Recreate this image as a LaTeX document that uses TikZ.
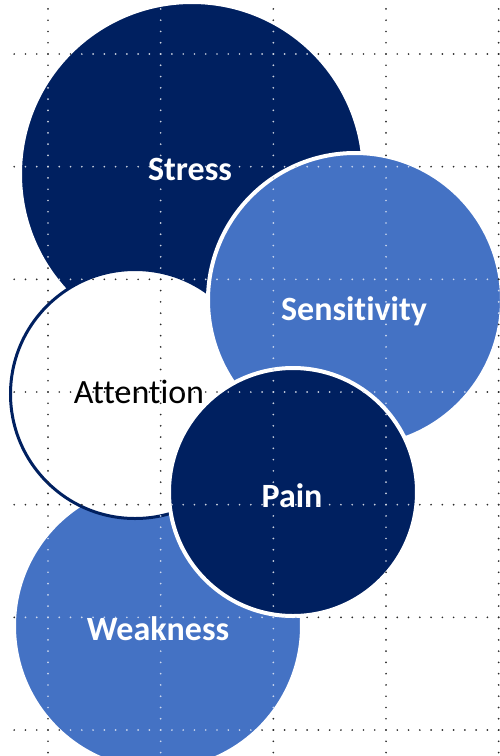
\documentclass[tikz,border=0pt]{standalone}
\usepackage{fontspec}
\setmainfont{Carlito}[Ligatures=NoCommon]
\usepackage{xcolor}
\usepackage{tikz}

\definecolor{navy}{HTML}{002060}
\definecolor{steel}{HTML}{4472C4}
\definecolor{dotgray}{HTML}{2A2A2A}
\colorlet{navydot}{white!80!navy}
\colorlet{steeldot}{white!72!steel}

% is (#1,#2) inside the circle at (#3,#4) of radius #5? sets \ifinbubble
\newif\ifinbubble
\newcommand{\testbubble}[5]{%
  \pgfmathparse{(((#1)-(#3))/10)^2+(((#2)-(#4))/10)^2<((#5)/10)^2}%
  \ifdim\pgfmathresult pt>0.5pt \inbubbletrue\else\inbubblefalse\fi}

% one guide dot, coloured by the topmost circle under it
\newcommand{\guidedot}[2]{%
  \def\dotcol{dotgray}%
  \testbubble{#1}{#2}{192}{174}{170}\ifinbubble\def\dotcol{navydot}\fi
  \testbubble{#1}{#2}{158}{626}{142}\ifinbubble\def\dotcol{steeldot}\fi
  \testbubble{#1}{#2}{135}{394}{124}\ifinbubble\def\dotcol{dotgray}\fi
  \testbubble{#1}{#2}{355}{300}{145}\ifinbubble\def\dotcol{steeldot}\fi
  \testbubble{#1}{#2}{293}{492}{122}\ifinbubble\def\dotcol{navydot}\fi
  \fill[\dotcol] (#1,#2) circle (0.95pt);}

\begin{document}
\begin{tikzpicture}[
  x=1pt, y=-1pt,
  bubble/.style={circle, inner sep=0pt, minimum size=#1, draw=white, line width=4pt},
  darkbubble/.style={bubble=#1, fill=navy},
  lightbubble/.style={bubble=#1, fill=steel},
  word/.style={anchor=base, text=white, font=\fontsize{34}{40}\selectfont\bfseries}
]
\useasboundingbox (0,0) rectangle (500,756);

% Circles, back to front
\node[darkbubble=344pt] (stress) at (192,174) {};
\node[lightbubble=288pt] (weakness) at (158,626) {};
\node[bubble=249pt, fill=white, draw=navy, line width=3pt] (attention) at (135,394) {};
\node[lightbubble=294pt] (sensitivity) at (355,300) {};
\node[darkbubble=248pt] (pain) at (293,492) {};

% Labels
\node[word] (stressLbl) at (190,180) {Stress};
\node[word] (sensitivityLbl) at (354,320) {Sensitivity};
\node[word, text=black, font=\fontsize{34}{40}\selectfont] (attentionLbl) at (139,403) {Attention};
\node[word] (painLbl) at (292,507) {Pain};
\node[word] (weaknessLbl) at (158,640) {Weakness};

% dotted slide guides over everything
\foreach \gx in {0,...,4}
  \foreach \k in {0,...,67} {
    \pgfmathsetmacro{\px}{48+112.67*\gx}
    \pgfmathsetmacro{\py}{8.93+11.267*\k}
    \guidedot{\px}{\py}
  }
\foreach \gy in {0,...,6}
  \foreach \k in {0,...,43} {
    \pgfmathsetmacro{\px}{14.2+11.267*\k}
    \pgfmathsetmacro{\py}{54+112.67*\gy}
    \guidedot{\px}{\py}
  }

\end{tikzpicture}
\end{document}
